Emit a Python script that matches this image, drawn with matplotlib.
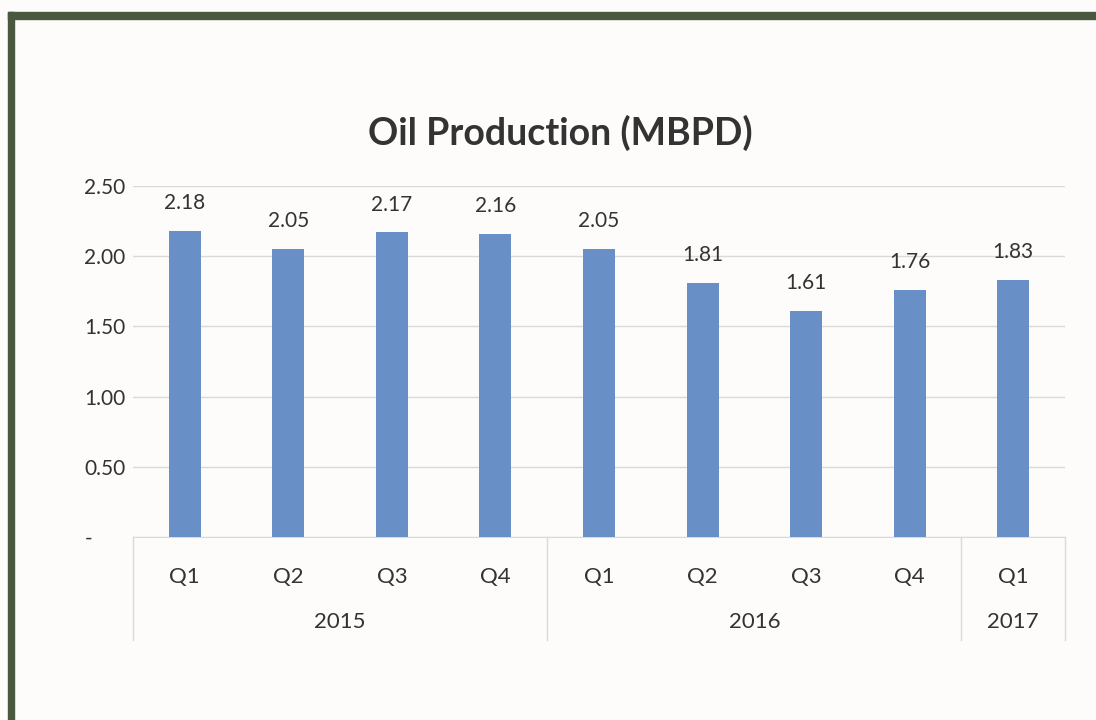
import matplotlib.pyplot as plt
from matplotlib.patches import Rectangle

# values
quarters = ["Q1", "Q2", "Q3", "Q4", "Q1", "Q2", "Q3", "Q4", "Q1"]
production = [2.18, 2.05, 2.17, 2.16, 2.05, 1.81, 1.61, 1.76, 1.83]
years = ["2015", "2016", "2017"]
year_sizes = [4, 4, 1]
y_ticks = [0, 0.5, 1.0, 1.5, 2.0, 2.5]
y_tick_labels = ["-", "0.50", "1.00", "1.50", "2.00", "2.50"]

plt.rcParams["font.family"] = ["Lato", "DejaVu Sans"]
text_col = "#333333"
grid_col = "#d9d9d9"

fig = plt.figure(figsize=(10.96, 7.2), dpi=100, facecolor="#fdfcfa")

# dark green frame (left and top edges visible)
fig.patches.append(Rectangle((8 / 1096, -0.01), 6 / 1096, 1 - 12 / 720 + 0.01,
                             transform=fig.transFigure, color="#4a5840"))
fig.patches.append(Rectangle((8 / 1096, 1 - 19 / 720), 1.0, 7 / 720,
                             transform=fig.transFigure, color="#4a5840"))

ax = fig.add_axes([133 / 1096, 1 - 537 / 720, (1065 - 133) / 1096, (537 - 186) / 720])
ax.set_facecolor("none")

x = list(range(len(quarters)))
ax.bar(x, production, width=0.31, color="#6890c6", zorder=3)
for xi, v in zip(x, production):
    ax.annotate(f"{v:.2f}", (xi, v), xytext=(0, 20), textcoords="offset points",
                ha="center", va="center", fontsize=15, color=text_col)

ax.set_xlim(-0.5, len(quarters) - 0.5)
ax.set_ylim(0, 2.5)
ax.set_yticks(y_ticks)
ax.set_yticklabels(y_tick_labels, fontsize=15, color=text_col)
ax.tick_params(axis="y", length=0, pad=35)
for lab in ax.get_yticklabels():
    lab.set_horizontalalignment("left")
ax.grid(axis="y", color=grid_col, linewidth=1, zorder=0)
for s in ["top", "right", "left"]:
    ax.spines[s].set_visible(False)
ax.spines["bottom"].set_color(grid_col)
ax.set_xticks([])

# multi-level category axis
tr = ax.get_xaxis_transform()
for xi, q in zip(x, quarters):
    ax.text(xi, -0.114, q, transform=tr, ha="center", va="center",
            fontsize=16, color=text_col)
start = -0.5
bounds = [start]
for name, n in zip(years, year_sizes):
    ax.text(start + n / 2, -0.242, name, transform=tr, ha="center", va="center",
            fontsize=16, color=text_col)
    start += n
    bounds.append(start)
for b in bounds:
    ax.plot([b, b], [0, -0.293], transform=tr, color=grid_col, lw=1, clip_on=False)

fig.text(560 / 1096, 1 - 133 / 720, "Oil Production (MBPD)", ha="center", va="center",
         fontsize=27, fontweight="bold", color=text_col)

fig.savefig("out.png", dpi=100, facecolor=fig.get_facecolor())
